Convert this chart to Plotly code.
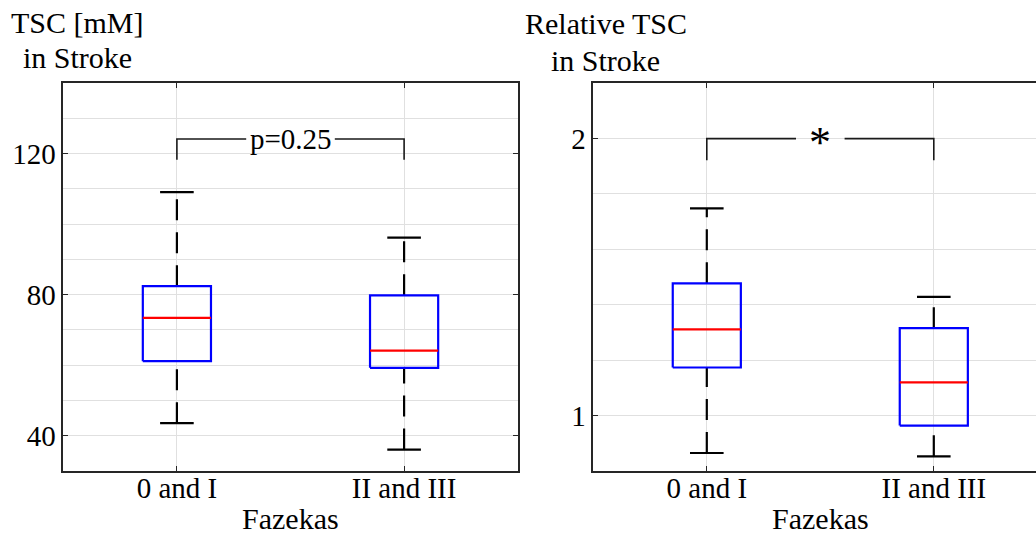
import plotly.graph_objects as go

# ---------------- data ----------------
categories = ["0 and I", "II and III"]
cat_pos = [1, 2]

# TSC [mM] in stroke
tsc_q1 = [61.1, 59.2]
tsc_med = [73.4, 64.1]
tsc_q3 = [82.4, 79.8]
tsc_lo = [43.5, 36.0]
tsc_hi = [109.1, 96.2]
tsc_bracket = [124.2, 118.3]   # bracket top, leg bottom
tsc_label = "p=0.25"

# Relative TSC in stroke
rel_q1 = [1.173, 0.963]
rel_med = [1.311, 1.119]
rel_q3 = [1.477, 1.315]
rel_lo = [0.864, 0.852]
rel_hi = [1.748, 1.428]
rel_bracket = [2.0, 1.922]
rel_label = "*"

tsc_yticks = [40, 80, 120]
rel_yticks = [1, 2]

# ---------------- style ----------------
W, H = 1036, 535
FONT = "Liberation Serif"
AX = "#262626"
GRID = "#e0e0e0"
BOX_HALF = 0.15
CAP_HALF = 0.074
LW = 2.2

fig = go.Figure()


def add_boxes(xa, ya, q1, med, q3, lo, hi):
    for x, a, m, b, l, h in zip(cat_pos, q1, med, q3, lo, hi):
        # whiskers (drawn upward, dashed)
        fig.add_trace(go.Scatter(x=[x, x], y=[b, h], mode="lines", xaxis=xa, yaxis=ya,
                                 line=dict(color="black", width=LW, dash="21px,12px"),
                                 hoverinfo="skip", showlegend=False))
        fig.add_trace(go.Scatter(x=[x, x], y=[l, a], mode="lines", xaxis=xa, yaxis=ya,
                                 line=dict(color="black", width=LW, dash="21px,12px"),
                                 hoverinfo="skip", showlegend=False))
        # caps
        for v in (l, h):
            fig.add_trace(go.Scatter(x=[x - CAP_HALF, x + CAP_HALF], y=[v, v], mode="lines",
                                     xaxis=xa, yaxis=ya, line=dict(color="black", width=LW),
                                     hoverinfo="skip", showlegend=False))
        # box
        fig.add_trace(go.Scatter(x=[x - BOX_HALF, x + BOX_HALF, x + BOX_HALF, x - BOX_HALF, x - BOX_HALF],
                                 y=[a, a, b, b, a], mode="lines", xaxis=xa, yaxis=ya,
                                 line=dict(color="#0000ff", width=LW),
                                 hoverinfo="skip", showlegend=False))
        # median
        fig.add_trace(go.Scatter(x=[x - BOX_HALF, x + BOX_HALF], y=[m, m], mode="lines",
                                 xaxis=xa, yaxis=ya, line=dict(color="#ff0000", width=LW),
                                 hoverinfo="skip", showlegend=False))


def add_bracket(xa, ya, br, label, gap_half, fsize, yshift):
    top, leg = br
    mid = (cat_pos[0] + cat_pos[1]) / 2
    fig.add_trace(go.Scatter(x=[cat_pos[0], cat_pos[0], mid - gap_half], y=[leg, top, top],
                             mode="lines", xaxis=xa, yaxis=ya,
                             line=dict(color="#1a1a1a", width=1.6),
                             hoverinfo="skip", showlegend=False))
    fig.add_trace(go.Scatter(x=[mid + gap_half, cat_pos[1], cat_pos[1]], y=[top, top, leg],
                             mode="lines", xaxis=xa, yaxis=ya,
                             line=dict(color="#1a1a1a", width=1.6),
                             hoverinfo="skip", showlegend=False))
    fig.add_annotation(x=mid, y=top, xref=xa, yref=ya, text=label, showarrow=False,
                       xanchor="center", yanchor="middle", yshift=yshift,
                       font=dict(family=FONT, size=fsize, color="black"))


add_boxes("x", "y", tsc_q1, tsc_med, tsc_q3, tsc_lo, tsc_hi)
add_boxes("x2", "y2", rel_q1, rel_med, rel_q3, rel_lo, rel_hi)
add_bracket("x", "y", tsc_bracket, tsc_label, 0.195, 29, 0)
add_bracket("x2", "y2", rel_bracket, rel_label, 0.107, 44, -4)

ydom = [1 - 470.7 / H, 1 - 83.3 / H]
common_x = dict(tickvals=cat_pos, ticktext=categories, showline=True, linecolor=AX, linewidth=1.5,
                ticks="inside", ticklen=5, tickwidth=1.3, tickcolor=AX, ticklabelstandoff=-9,
                showgrid=True, gridcolor=GRID, gridwidth=1, zeroline=False,
                tickfont=dict(family=FONT, size=29, color="black"), fixedrange=True)
common_y = dict(showline=True, linecolor=AX, linewidth=1.5,
                ticks="inside", ticklen=5, tickwidth=1.3, tickcolor=AX,
                showgrid=True, gridcolor=GRID, gridwidth=1, zeroline=False,
                tickfont=dict(family=FONT, size=29, color="black"), fixedrange=True)

fig.update_layout(
    width=W, height=H,
    margin=dict(l=0, r=0, t=0, b=0),
    paper_bgcolor="white", plot_bgcolor="white",
    showlegend=False,
    xaxis=dict(domain=[63.3 / W, 517.7 / W], range=[0.5, 2.5], anchor="y", mirror="allticks", **common_x),
    yaxis=dict(domain=ydom, range=[30, 140], anchor="x", mirror="allticks",
               tickvals=tsc_yticks, minor=dict(dtick=10, tick0=0, showgrid=True, gridcolor=GRID, ticks=""),
               **common_y),
    xaxis2=dict(domain=[593.3 / W, 1.0], range=[0.5, 0.5 + (W - 593.3) / 227.0], anchor="y2",
                mirror="allticks", **common_x),
    yaxis2=dict(domain=ydom, range=[0.8, 2.2], anchor="x2", mirror=False,
                tickvals=rel_yticks, minor=dict(dtick=0.2, tick0=0, showgrid=True, gridcolor=GRID, ticks=""),
                **common_y),
)

# titles and axis labels
def txt(x, y, s, size):
    fig.add_annotation(x=x / W, y=1 - y / H, xref="paper", yref="paper", text=s, showarrow=False,
                       xanchor="center", yanchor="middle", font=dict(family=FONT, size=size, color="black"))

txt(77.5, 22, "TSC [mM]", 30)
txt(77.5, 58, "in Stroke", 30)
txt(605.5, 24, "Relative TSC", 30)
txt(605.5, 60, "in Stroke", 30)
txt(290.5, 518, "Fazekas", 30)
txt(820, 518, "Fazekas", 30)

fig.write_html("out.html", config={"displayModeBar": False},
               post_script="document.body.style.margin='0px';document.body.style.overflow='hidden';")
